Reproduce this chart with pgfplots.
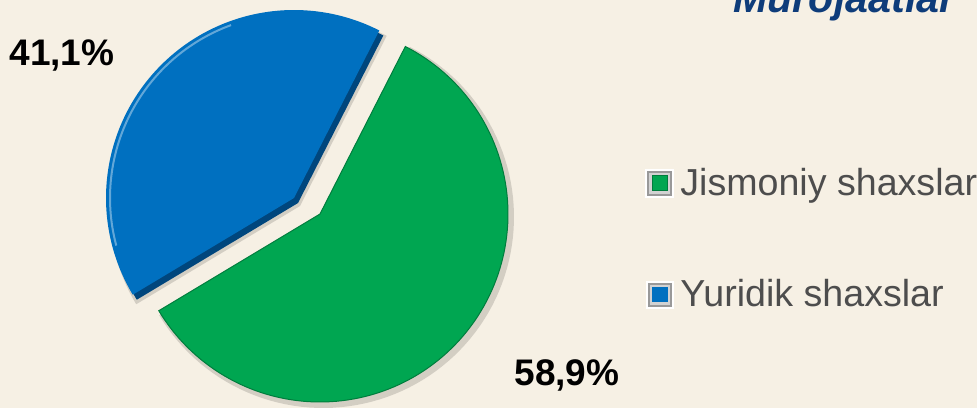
\documentclass[border=0pt]{standalone}
\usepackage{pgfplots}
\pgfplotsset{compat=1.18}
\usepackage{pgfplotstable}
\usepackage{fontspec}
\setmainfont{Liberation Sans}
\definecolor{bg}{RGB}{246,240,228}
\definecolor{pgreen}{RGB}{0,166,81}
\definecolor{pblue}{RGB}{0,112,192}
\definecolor{pbluedark}{RGB}{0,70,125}
\definecolor{titleblue}{RGB}{14,60,122}
\definecolor{legtext}{RGB}{77,77,77}

\pgfplotstableread{
share
58.9
41.1
}\piedata

\begin{document}
\begin{tikzpicture}
\pgfplotstablegetelem{0}{share}\of\piedata \let\vG\pgfplotsretval
\pgfplotstablegetelem{1}{share}\of\piedata \let\vB\pgfplotsretval
\pgfmathsetmacro{\aS}{63.0}
\pgfmathsetmacro{\gA}{\aS-3.6*\vG}
\pgfmathsetmacro{\bB}{\aS+3.6*\vB}
\useasboundingbox (0,0) rectangle (488.5pt,204pt);
\clip (0,0) rectangle (488.5pt,204pt);
\fill[bg] (0,0) rectangle (488.5pt,204pt);
\begin{axis}[at={(0,0)}, anchor=south west, scale only axis,
  width=488.5pt, height=204pt, xmin=0, xmax=977, ymin=0, ymax=408,
  hide axis, clip=false,
  legend image code/.code={
    \fill[white] (0pt,-7pt) rectangle (14pt,7pt);
    \fill[gray!80] (1pt,-6pt) rectangle (13pt,6pt);
    \fill[gray!35] (2pt,-5pt) rectangle (12pt,5pt);
    \fill (3.2pt,-3.8pt) rectangle (10.8pt,3.8pt);
  },
  legend cell align=left,
  legend style={at={(axis cs:645,169)}, anchor=west, draw=none, fill=none,
    font=\fontsize{18.8}{22}\selectfont\color{legtext}, row sep=36.5pt,
    inner sep=0pt, /tikz/every odd column/.style={column sep=1pt}},
]
% shadows
\addplot[draw=none, fill=black, opacity=0.14, domain=\gA:\aS, samples=90, variable=\t, forget plot]
  ({323+191*cos(t)},{191+191*sin(t)}) -- (axis cs:323,191) -- cycle;
\addplot[draw=none, fill=black, opacity=0.14, domain=\aS:\bB, samples=90, variable=\t, forget plot]
  ({300+191*cos(t)},{202+191*sin(t)}) -- (axis cs:300,202) -- cycle;
% green slice
\addplot[draw=pgreen!75!black, line width=0.5pt, fill=pgreen, domain=\gA:\aS, samples=120, variable=\t]
  ({320+188*cos(t)},{194+188*sin(t)}) -- (axis cs:320,194) -- cycle;
\addlegendentry{Jismoniy shaxslar}
% blue slice depth
\addplot[draw=none, fill=pbluedark, domain=\aS:\bB, samples=120, variable=\t, forget plot]
  ({298+188*cos(t)},{205+188*sin(t)}) -- (axis cs:298,205) -- cycle;
% blue slice
\addplot[draw=none, fill=pblue, domain=\aS:\bB, samples=120, variable=\t]
  ({294+188*cos(t)},{210+188*sin(t)}) -- (axis cs:294,210) -- cycle;
\addlegendentry{Yuridik shaxslar}
% blue highlight
\addplot[draw=pblue!45!white, line width=1pt, opacity=0.7, domain=110:195, samples=60, variable=\t, forget plot]
  ({294+184*cos(t)},{210+184*sin(t)});
\node[font=\bfseries\fontsize{18.5}{22}\selectfont] at (axis cs:62,353) {41,1\%};
\node[font=\bfseries\fontsize{18.5}{22}\selectfont] at (axis cs:567,33) {58,9\%};
\node[anchor=base west, inner sep=0pt, font=\bfseries\itshape\fontsize{20.6}{24}\selectfont, text=titleblue] at (axis cs:733,395) {Murojaatlar};
\end{axis}
\end{tikzpicture}
\end{document}
